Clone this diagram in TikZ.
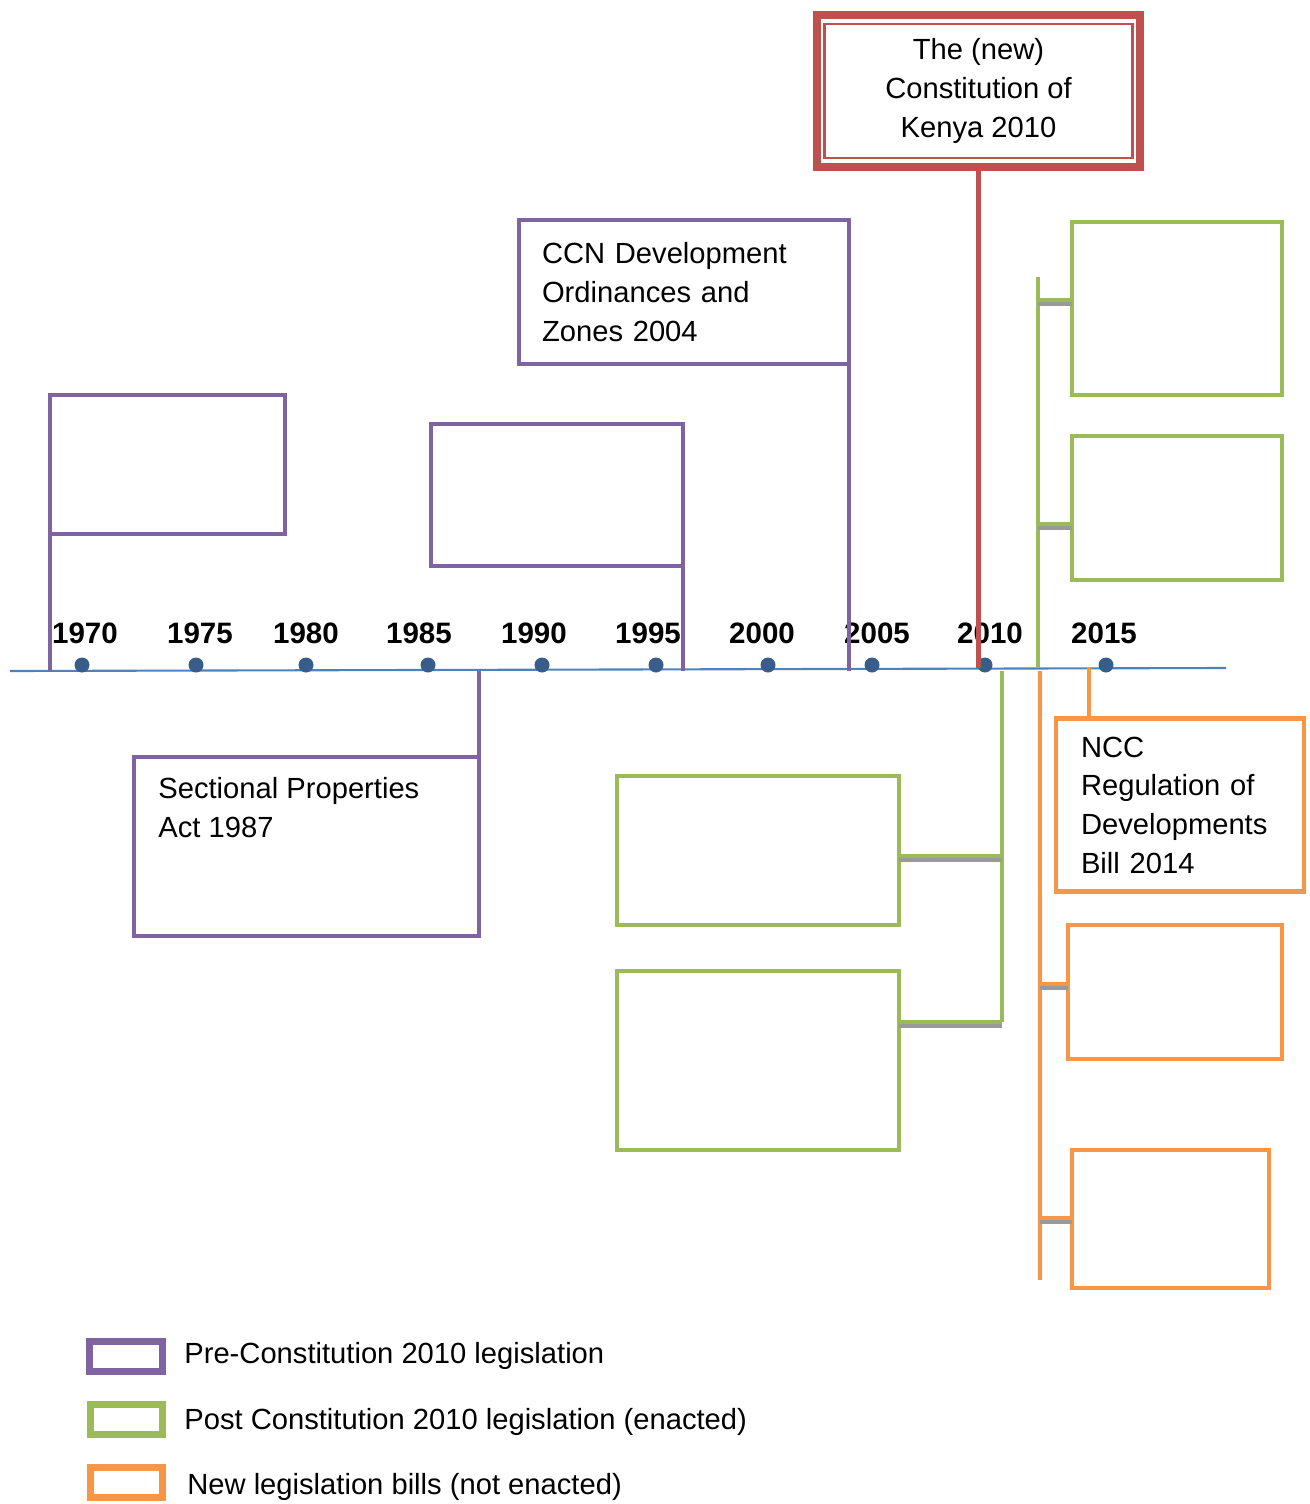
\documentclass[tikz,border=0pt]{standalone}
\usepackage{fontspec}
\setmainfont{Liberation Sans}
\usepackage{tikz}
\usetikzlibrary{calc,positioning}
\definecolor{PrePurple}{RGB}{128,100,162}
\definecolor{PostGreen}{RGB}{155,187,89}
\definecolor{BillOrange}{RGB}{247,150,70}
\definecolor{ConRed}{RGB}{192,80,77}
\definecolor{AxisBlue}{RGB}{79,129,189}
\definecolor{DotBlue}{RGB}{56,93,138}

\begin{document}
\begin{tikzpicture}[x=0.02cm,y=-0.02cm,font=\fontsize{16.6}{22}\selectfont,
  lawbox/.style={draw=#1,line width=2.8pt,fill=white,outer sep=0pt,inner sep=0pt},
  keybox/.style={draw=#1,line width=4pt,outer sep=0pt,minimum width=1.45cm,minimum height=0.6cm},
  link/.style={draw=#1,line width=2.8pt},
  shade/.style={draw=black!40,line width=2.3pt},
  year/.style={font=\fontsize{16.8}{20}\selectfont\bfseries,inner sep=0pt},
  keytext/.style={anchor=west,inner sep=0pt}]
  \useasboundingbox (0,0) rectangle (1310,1504);

  % time axis
  \coordinate (axL) at (10,671);
  \coordinate (axR) at (1226,668);
  \draw[AxisBlue,line width=1.2pt] (axL) -- (axR);
  \foreach \yr/\xx in {1970/85,1975/200,1980/306,1985/419,1990/534,1995/648,2000/762,2005/877,2010/990,2015/1104}
    \node[year] (y\yr) at (\xx,633) {\yr};
  \foreach \xx in {82,196,306,428,542,656,768,872,985,1106}
    \fill[DotBlue] (\xx,665) circle[radius=1.5mm];

  % pre-constitution
  \node[lawbox=PrePurple,minimum width=4.7cm,minimum height=2.78cm] (pa) at (167.5,464.5) {};
  \node[lawbox=PrePurple,minimum width=5.04cm,minimum height=2.84cm] (pb) at (557,495) {};
  \node[lawbox=PrePurple,minimum width=6.6cm,minimum height=2.88cm,text width=5.68cm,inner xsep=0.46cm,align=left] (ccn) at (684,292) {CCN Development\\Ordinances and\\Zones 2004};
  \node[lawbox=PrePurple,minimum width=6.9cm,minimum height=3.58cm] (sp) at (306.5,846.5) {};
  \node[anchor=north west,inner sep=0pt,align=left] (spt) at ($(sp.north west)+(24,20)$) {Sectional Properties\\Act 1987};
  \draw[link=PrePurple] (pa.south west) -- (pa.south west |- axL);
  \draw[link=PrePurple] (pb.south east) -- (pb.south east |- axL);
  \draw[link=PrePurple] (ccn.south east) -- (ccn.south east |- axL);
  \draw[link=PrePurple] (sp.north east) -- (sp.north east |- axL);

  % constitution
  \node[draw=ConRed,line width=4.5pt,fill=white,outer sep=0pt,minimum width=6.46cm,minimum height=3.03cm,align=center] (con) at (978.5,91) {The (new)\\Constitution of\\Kenya 2010};
  \draw[ConRed,line width=1.4pt] ($(con.north west)+(7.5,8.5)$) rectangle ($(con.south east)+(-7.5,-8.5)$);
  \draw[link=ConRed] (con.south) -- (con.south |- axR);

  % post-constitution, enacted
  \node[lawbox=PostGreen,minimum width=4.2cm,minimum height=3.46cm] (g1) at (1177,308.5) {};
  \node[lawbox=PostGreen,minimum width=4.2cm,minimum height=2.88cm] (g2) at (1177,508) {};
  \node[lawbox=PostGreen,minimum width=5.64cm,minimum height=2.98cm] (g3) at (758,850.5) {};
  \node[lawbox=PostGreen,minimum width=5.64cm,minimum height=3.58cm] (g4) at (758,1060.5) {};
  \coordinate (gtop) at (1038,277);
  \coordinate (glow) at ($(g4.north east)+(103,51)$);
  \coordinate (g1c) at ($(g1.north west)+(0,78)$);
  \coordinate (g2c) at ($(g2.north west)+(0,88)$);
  \coordinate (g3c) at ($(g3.north east)+(0,80)$);
  \draw[link=PostGreen] (gtop) -- (gtop |- axR);
  \draw[link=PostGreen] (glow |- axL) -- (glow);
  \draw[shade] ([yshift=-2.2pt]g1c -| gtop) -- ([yshift=-2.2pt]g1c);
  \draw[shade] ([yshift=-2.2pt]g2c -| gtop) -- ([yshift=-2.2pt]g2c);
  \draw[shade] ([yshift=-2.2pt]g3c) -- ([yshift=-2.2pt]g3c -| glow);
  \draw[shade] ([yshift=-2.2pt]glow -| g4.east) -- ([yshift=-2.2pt]glow);
  \draw[link=PostGreen] (g1c -| gtop) -- (g1c);
  \draw[link=PostGreen] (g2c -| gtop) -- (g2c);
  \draw[link=PostGreen] (g3c) -- (g3c -| glow);
  \draw[link=PostGreen] (glow -| g4.east) -- (glow);

  % bills, not enacted
  \node[lawbox=BillOrange,minimum width=4.96cm,minimum height=3.46cm,text width=3.96cm,inner xsep=0.5cm,align=left] (ncc) at (1180,805) {NCC\\Regulation of\\Developments\\Bill 2014};
  \node[lawbox=BillOrange,minimum width=4.28cm,minimum height=2.68cm] (o2) at (1175,992) {};
  \node[lawbox=BillOrange,minimum width=3.94cm,minimum height=2.76cm] (o3) at (1170.5,1219) {};
  \coordinate (obot) at (1040,1280);
  \coordinate (nccc) at ($(ncc.north west)+(33,0)$);
  \coordinate (o2c) at ($(o2.north west)+(0,59)$);
  \coordinate (o3c) at ($(o3.north west)+(0,68)$);
  \draw[link=BillOrange] (obot |- axL) -- (obot);
  \draw[link=BillOrange] (nccc) -- (nccc |- axR);
  \draw[shade] ([yshift=-2.2pt]o2c -| obot) -- ([yshift=-2.2pt]o2c);
  \draw[shade] ([yshift=-2.2pt]o3c -| obot) -- ([yshift=-2.2pt]o3c);
  \draw[link=BillOrange] (o2c -| obot) -- (o2c);
  \draw[link=BillOrange] (o3c -| obot) -- (o3c);

  % key
  \node[keybox=PrePurple] (kpre) at (126,1356.5) {};
  \node[keybox=PostGreen] (kpost) at (126.5,1419.5) {};
  \node[keybox=BillOrange] (kbill) at (126.5,1482.5) {};
  \node[keytext] (tpre) at (184,1356) {Pre-Constitution 2010 legislation};
  \node[keytext] (tpost) at (184,1422) {Post Constitution 2010 legislation (enacted)};
  \node[keytext] (tbill) at (187,1487) {New legislation bills (not enacted)};
\end{tikzpicture}
\end{document}
